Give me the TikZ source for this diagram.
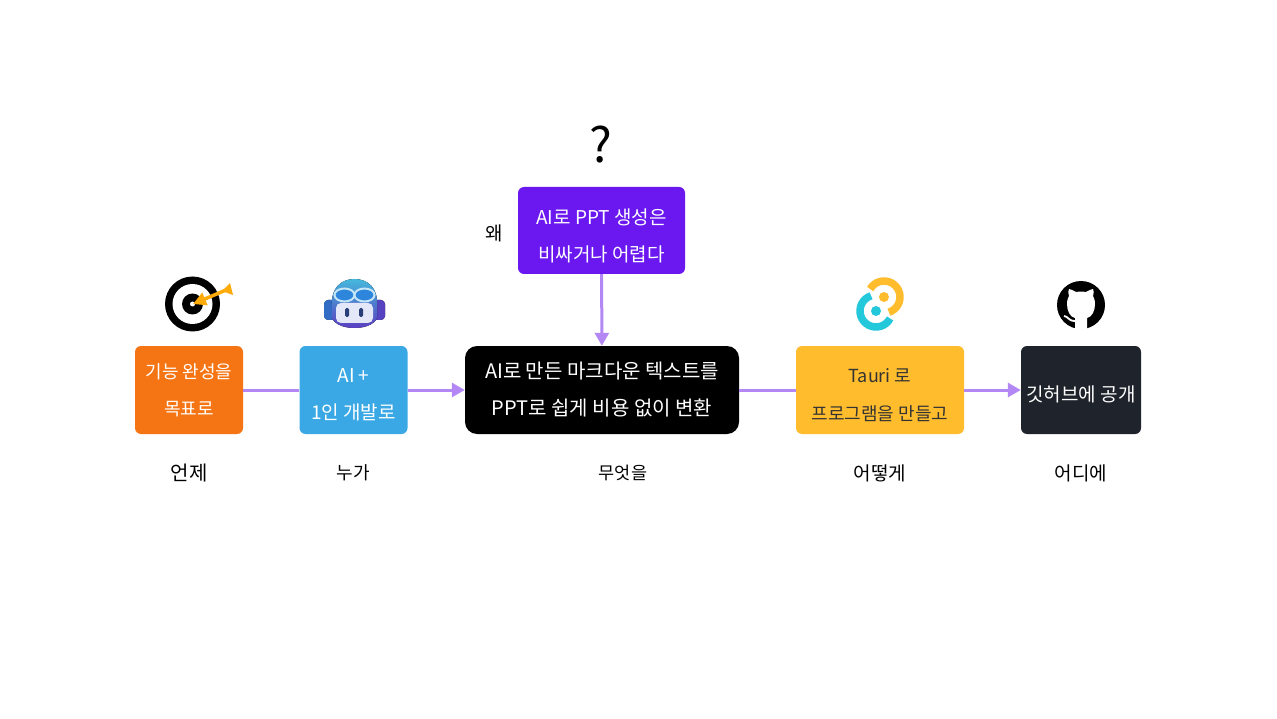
\documentclass[tikz,border=0pt]{standalone}
\usepackage{fontspec}
\setmainfont{Noto Sans CJK KR}
\usetikzlibrary{arrows.meta}
\definecolor{flowline}{HTML}{B388F5}
\definecolor{goalorange}{HTML}{F57514}
\definecolor{devblue}{HTML}{3AA8E4}
\definecolor{tauriyellow}{HTML}{FFBD2E}
\definecolor{repodark}{HTML}{1F232B}
\definecolor{whypurple}{HTML}{6A17F0}
\definecolor{arrowamber}{HTML}{FFAB0A}
\definecolor{tauriteal}{HTML}{24C8DB}
\definecolor{botpurple}{HTML}{5A3FC0}
\definecolor{botsky}{HTML}{45B8DC}
\definecolor{botblue}{HTML}{2F6FC4}
\definecolor{botface}{HTML}{E4E7F7}
\definecolor{boteye}{HTML}{2A3F78}
\definecolor{botrim}{HTML}{C4E6F6}
\definecolor{botlens}{HTML}{2E86DC}
\newcommand{\lowline}[1]{\rule{0pt}{#1}}
\tikzset{
  box/.style={rounded corners=6pt, align=center, font=\fontsize{19}{37}\selectfont, text=white, inner sep=0pt},
  cap label/.style={font=\fontsize{19}{22}\selectfont, inner sep=0pt},
  flow/.style={draw=flowline, line width=3pt},
  flow arrow/.style={flow, -{Triangle[length=13pt,width=14pt]}}
}
\begin{document}
\begin{tikzpicture}[x=1pt,y=-1pt]
    \useasboundingbox (0,0) rectangle (1277,719);
    \fill[white] (0,0) rectangle (1277,719);

    % boxes
    \node[box, fill=goalorange, font=\fontsize{18}{37}\selectfont, minimum width=108pt, minimum height=88pt] (goal) at (189,390) {기능 완성을\\목표로};
    \node[box, fill=devblue, minimum width=108pt, minimum height=88pt] (dev) at (353.5,390) {\lowline{24pt}AI +\\1인 개발로};
    \node[box, fill=black, font=\fontsize{20}{37}\selectfont, rounded corners=12pt, minimum width=274pt, minimum height=88pt] (text) at (602,390) {AI로 만든 마크다운 텍스트를\\PPT로 쉽게 비용 없이 변환};
    \node[box, fill=tauriyellow, text=black!80, font=\fontsize{18}{38}\selectfont, minimum width=168pt, minimum height=88pt] (tauri) at (880,390) {\lowline{24pt}Tauri 로\\프로그램을 만들고};
    \node[box, fill=repodark, minimum width=120pt, minimum height=88pt] (repo) at (1081,390) {\lowline{24pt}깃허브에 공개};
    \node[box, fill=whypurple, minimum width=167pt, minimum height=87pt] (why) at (601.5,230.5) {\lowline{26pt}AI로 PPT 생성은\\비싸거나 어렵다};

    % labels
    \node[cap label, font=\fontsize{20}{22}\selectfont] (when) at (189,473) {언제};
    \node[cap label, font=\fontsize{18}{22}\selectfont] (who) at (353,473) {누가};
    \node[cap label, font=\fontsize{17.5}{22}\selectfont] (what) at (623,473) {무엇을};
    \node[cap label] (how) at (880,473) {어떻게};
    \node[cap label] (where) at (1081,473) {어디에};
    \node[cap label] (whylabel) at (494,233) {왜};
    \node[font=\fontsize{48}{48}\selectfont, inner sep=0pt] (mark) at (601,145) {?};

    % connectors
    \draw[flow] (goal) -- (dev);
    \draw[flow arrow] (dev) -- (text);
    \draw[flow] (text) -- (tauri);
    \draw[flow arrow] (tauri) -- (repo);
    \draw[flow arrow] (why) -- (text);

    % target icon
    \fill[black] (192.5,304) circle (27.5);
    \fill[white] (192.5,304) circle (20);
    \fill[black] (192.5,304) circle (10.5);
    \fill[white] (192.5,304) circle (2.5);
    \draw[line width=3.5pt, draw=arrowamber, -{Triangle[length=13pt,width=13pt]}] (226,290) -- (193,304);
    \fill[arrowamber] (222,291) -- (230,283) -- (233,295) -- cycle;

    % copilot icon
    \fill[left color=botblue, right color=botpurple, rounded corners=4pt] (324,300) rectangle (385,320);
    \fill[top color=botsky, bottom color=botpurple] (332,305) .. controls (331,288) and (341,279) .. (354.5,279) .. controls (368,279) and (378,288) .. (377,305) -- (377,318) .. controls (374,325) and (364,328) .. (354.5,328) .. controls (345,328) and (335,325) .. (332,318) -- cycle;
    \fill[botface, rounded corners=5pt] (336,303) rectangle (373,323);
    \fill[boteye, rounded corners=1.5pt] (345,308) rectangle (349,317);
    \fill[boteye, rounded corners=1.5pt] (359,308) rectangle (363,317);
    \filldraw[draw=botrim, line width=2pt, fill=botlens] (344.5,295) ellipse (10 and 6.5);
    \filldraw[draw=botrim, line width=2pt, fill=botlens] (364.5,295) ellipse (10 and 6.5);

    % tauri icon
    \draw[line width=7.5pt, draw=tauriyellow] (884,297) ++(-150:16) arc(-150:72:16);
    \fill[tauriyellow] (884,297) circle (5);
    \draw[line width=7.5pt, draw=tauriteal] (876,311) ++(252:16) arc(252:28:16);
    \fill[tauriteal] (876,311) circle (5);

    % github icon
    \fill[black] (1081,305) circle (24);
    \fill[white] (1075,329) -- (1075,318) .. controls (1070,317) and (1067,311) .. (1067,304) .. controls (1067,300) and (1068,298) .. (1069,296) .. controls (1068,293) and (1068,291) .. (1069,289) .. controls (1071,289) and (1074,291) .. (1076,292) .. controls (1079,291.5) and (1083,291.5) .. (1086,292) .. controls (1088,291) and (1091,289) .. (1093,289) .. controls (1094,291) and (1094,293) .. (1093,296) .. controls (1094,298) and (1095,300) .. (1095,304) .. controls (1095,311) and (1092,317) .. (1087,318) -- (1087,329) -- cycle;
    \draw[white, line width=1.8pt] (1064,316) .. controls (1068,316) and (1068,321) .. (1075,321);
\end{tikzpicture}
\end{document}
